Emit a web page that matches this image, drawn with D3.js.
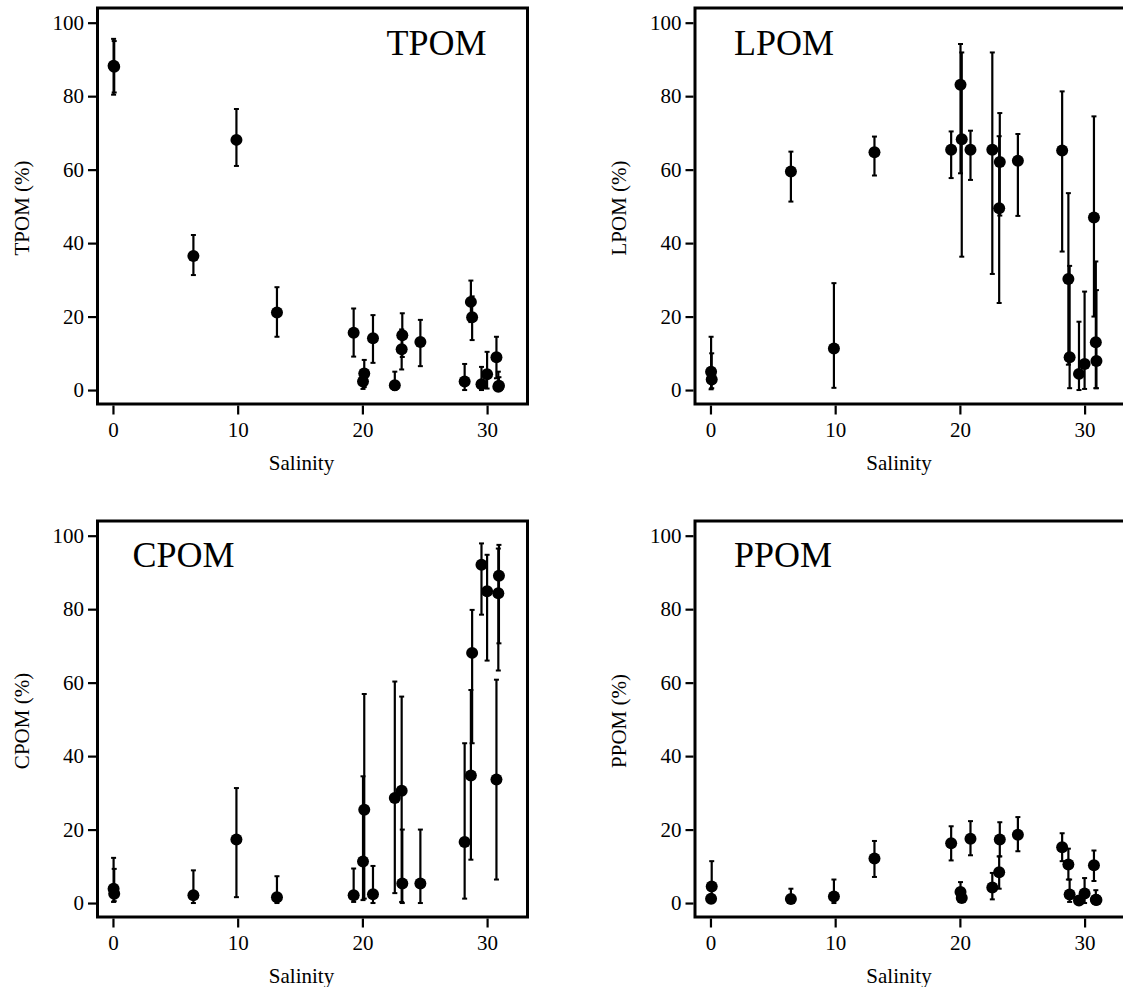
<!DOCTYPE html>
<html>
<head>
<meta charset="utf-8">
<script src="https://cdn.jsdelivr.net/npm/d3@7"></script>
<style>
  html, body { margin: 0; padding: 0; background: #fff; }
  svg { display: block; }
  svg text { font-family: "Liberation Serif", "Times New Roman", Times, serif !important; }
</style>
</head>
<body>
<svg id="chart" width="1123" height="987"></svg>
<script>
// ---- Data ----
const salinity = [0.05, 0.1, 6.45, 9.9, 13.15, 19.3, 20.05, 20.15, 20.85, 22.6, 23.15, 23.2, 24.65, 28.2, 28.7, 28.8, 29.55, 30.0, 30.75, 30.9, 30.95];

const tpom    = [88.3, 88.0, 36.5, 68.1, 21.1, 15.6, 2.3, 4.5, 14.1, 1.3, 11.1, 14.9, 13.1, 2.3, 24.0, 19.8, 1.6, 4.3, 8.9, 0.9, 1.2];
const tpomLo  = [80.4, 81.0, 31.3, 61.0, 14.5, 9.1, 0.3, 0.8, 7.4, 0.0, 5.6, 9.0, 6.5, 0.0, 18.5, 13.6, 0.0, 0.4, 3.2, 0.0, 0.0];
const tpomHi  = [95.6, 95.0, 42.2, 76.5, 28.0, 22.2, 5.5, 8.2, 20.4, 5.0, 16.5, 20.9, 19.1, 7.1, 29.8, 25.5, 6.3, 10.4, 14.5, 5.0, 3.5];

const lpom    = [5.0, 2.9, 59.5, 11.3, 64.7, 65.4, 83.1, 68.3, 65.4, 65.4, 49.5, 62.1, 62.4, 65.2, 30.2, 8.9, 4.4, 7.1, 47.0, 13.0, 7.9];
const lpomLo  = [0.2, 0.5, 51.3, 0.6, 58.4, 57.7, 59.0, 36.3, 57.2, 31.6, 23.7, 47.5, 47.4, 37.7, 6.9, 0.5, 0.0, 0.3, 20.0, 0.5, 0.5];
const lpomHi  = [14.5, 10.0, 64.9, 29.1, 69.0, 70.4, 94.2, 91.9, 70.6, 91.9, 69.1, 75.4, 69.7, 81.3, 53.6, 33.8, 18.6, 26.8, 74.5, 35.0, 27.2];

const cpom    = [3.9, 2.5, 2.1, 17.3, 1.6, 2.1, 11.3, 25.4, 2.4, 28.6, 30.6, 5.3, 5.3, 16.6, 34.7, 68.1, 92.1, 84.9, 33.6, 84.3, 89.1];
const cpomLo  = [0.3, 0.5, 0.0, 1.6, 0.0, 0.3, 0.8, 1.2, 0.0, 2.7, 0.3, 0.0, 0.0, 1.2, 11.8, 43.5, 78.5, 66.0, 6.4, 63.3, 70.7];
const cpomHi  = [12.3, 9.3, 8.9, 31.3, 7.3, 9.4, 34.5, 56.9, 10.1, 60.3, 56.2, 20.0, 20.0, 43.5, 58.0, 79.8, 97.9, 94.8, 60.8, 96.5, 97.5];

const ppom    = [1.2, 4.5, 1.1, 1.8, 12.1, 16.3, 3.0, 1.4, 17.5, 4.2, 8.4, 17.3, 18.6, 15.2, 10.5, 2.3, 0.7, 2.6, 10.3, 0.9, 0.8];
const ppomLo  = [0.2, 0.0, 0.0, 0.0, 7.1, 11.6, 0.5, 0.5, 13.0, 1.0, 3.9, 12.7, 14.1, 11.4, 6.4, 0.3, 0.0, 0.0, 6.0, 0.0, 0.0];
const ppomHi  = [2.2, 11.4, 3.9, 6.4, 16.9, 20.9, 5.7, 2.5, 22.3, 8.2, 12.7, 22.0, 23.4, 19.0, 14.8, 6.4, 1.5, 6.8, 14.3, 3.5, 2.0];

const xTicks = [0, 10, 20, 30];
const yTicks = [0, 20, 40, 60, 80, 100];
const xLabel = "Salinity";

// ---- Layout ----
const FONT = '"Liberation Serif", "Times New Roman", Times, serif';
const svg = d3.select("#chart");
const W = 430, H = 396;
const panels = [
  { name: "TPOM", v: tpom, lo: tpomLo, hi: tpomHi, x0: 97.5, y0: 8,   tx: 289, ty: 47 },
  { name: "LPOM", v: lpom, lo: lpomLo, hi: lpomHi, x0: 695,  y0: 8,   tx: 39,  ty: 47 },
  { name: "CPOM", v: cpom, lo: cpomLo, hi: cpomHi, x0: 97.5, y0: 521, tx: 35,  ty: 46 },
  { name: "PPOM", v: ppom, lo: ppomLo, hi: ppomHi, x0: 695,  y0: 521, tx: 39,  ty: 46 }
];

panels.forEach(p => {
  const g = svg.append("g").attr("transform", `translate(${p.x0},${p.y0})`);
  const x = d3.scaleLinear().domain([-1.24, 33.24]).range([0, W]);
  const y = d3.scaleLinear().domain([-3.8, 104.0]).range([H, 0]);

  // y axis
  const ya = g.append("g").attr("transform", "translate(-1.5,0)")
    .call(d3.axisLeft(y).tickValues(yTicks).tickSize(8).tickPadding(4));
  ya.attr("font-family", FONT).attr("font-size", 21);
  ya.select(".domain").remove();
  ya.selectAll(".tick line").attr("stroke", "#000").attr("stroke-width", 2.2);
  ya.selectAll(".tick text").attr("fill", "#000");

  // x axis
  const xa = g.append("g").attr("transform", `translate(0,${H + 1.5})`)
    .call(d3.axisBottom(x).tickValues(xTicks).tickSize(9).tickPadding(8));
  xa.attr("font-family", FONT).attr("font-size", 21);
  xa.select(".domain").remove();
  xa.selectAll(".tick line").attr("stroke", "#000").attr("stroke-width", 2.2);
  xa.selectAll(".tick text").attr("fill", "#000");

  // frame
  g.append("rect").attr("x", 0).attr("y", 0).attr("width", W).attr("height", H)
    .attr("fill", "none").attr("stroke", "#000").attr("stroke-width", 3);

  const idx = d3.range(salinity.length);
  // error bars
  const eb = g.append("g").attr("stroke", "#000");
  eb.selectAll("line.v").data(idx).join("line").attr("class", "v")
    .attr("x1", i => x(salinity[i])).attr("x2", i => x(salinity[i]))
    .attr("y1", i => y(p.lo[i])).attr("y2", i => y(p.hi[i]))
    .attr("stroke-width", 2.2);
  eb.selectAll("line.hc").data(idx).join("line").attr("class", "hc")
    .attr("x1", i => x(salinity[i]) - 2.5).attr("x2", i => x(salinity[i]) + 2.5)
    .attr("y1", i => y(p.hi[i])).attr("y2", i => y(p.hi[i]))
    .attr("stroke-width", 2);
  eb.selectAll("line.lc").data(idx).join("line").attr("class", "lc")
    .attr("x1", i => x(salinity[i]) - 2.5).attr("x2", i => x(salinity[i]) + 2.5)
    .attr("y1", i => y(p.lo[i])).attr("y2", i => y(p.lo[i]))
    .attr("stroke-width", 2);

  // points
  g.selectAll("circle").data(idx).join("circle")
    .attr("cx", i => x(salinity[i])).attr("cy", i => y(p.v[i]))
    .attr("r", 6).attr("fill", "#000");

  // panel title
  g.append("text").attr("x", p.tx).attr("y", p.ty).text(p.name)
    .attr("font-family", FONT).attr("font-size", 36).attr("fill", "#000");

  // axis titles
  g.append("text").attr("x", 204).attr("y", H + 66).attr("text-anchor", "middle")
    .attr("font-family", FONT).attr("font-size", 21).attr("fill", "#000").text(xLabel);
  g.append("text").attr("transform", `translate(-69,${H / 2 + 2}) rotate(-90)`)
    .attr("text-anchor", "middle").attr("font-family", FONT).attr("font-size", 21)
    .attr("fill", "#000").text(p.name + " (%)");
});
</script>
</body>
</html>
